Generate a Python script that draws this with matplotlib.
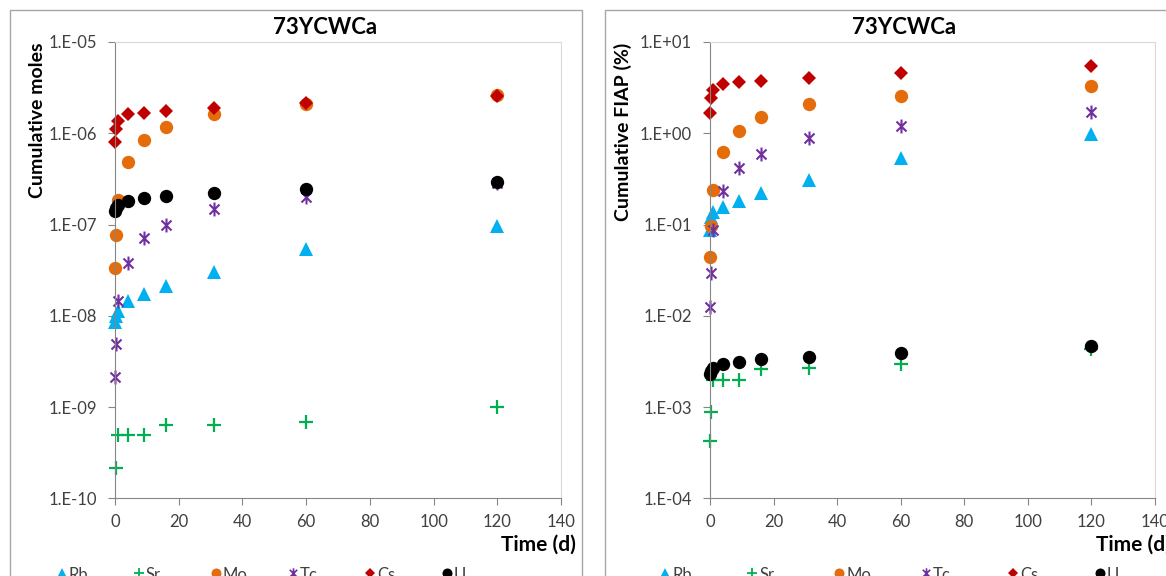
import numpy as np
import matplotlib
matplotlib.use('Agg')
import matplotlib.pyplot as plt
from matplotlib.path import Path
from matplotlib.lines import Line2D
from matplotlib.patches import Rectangle
from matplotlib.ticker import FixedLocator, FuncFormatter

plt.rcParams['font.family'] = ['Lato', 'DejaVu Sans']

# sampling times (d)
time_d = [0.08, 0.3, 1, 4, 9, 16, 31, 60, 120]
elements = ['Rb', 'Sr', 'Mo', 'Tc', 'Cs', 'U']

# cumulative moles
moles_rb = [8.6e-9, 1.0e-8, 1.13e-8, 1.46e-8, 1.73e-8, 2.12e-8, 3.0e-8, 5.4e-8, 9.6e-8]
moles_sr = [np.nan, 2.13e-10, 4.9e-10, 4.9e-10, 4.9e-10, 6.3e-10, 6.3e-10, 6.9e-10, 1.0e-9]
moles_mo = [3.36e-8, 7.67e-8, 1.86e-7, 4.87e-7, 8.43e-7, 1.18e-6, 1.61e-6, 2.09e-6, 2.62e-6]
moles_tc = [2.15e-9, 4.9e-9, 1.46e-8, 3.82e-8, 7.2e-8, 9.9e-8, 1.48e-7, 2.0e-7, 2.85e-7]
moles_cs = [8.08e-7, 1.105e-6, 1.373e-6, 1.626e-6, 1.68e-6, 1.767e-6, 1.905e-6, 2.15e-6, 2.56e-6]
moles_u = [1.42e-7, 1.52e-7, 1.64e-7, 1.81e-7, 1.94e-7, 2.05e-7, 2.2e-7, 2.45e-7, 2.95e-7]

# cumulative FIAP (%)
fiap_rb = [0.087, 0.12, 0.138, 0.157, 0.181, 0.220, 0.308, 0.537, 0.977]
fiap_sr = [4.28e-4, 8.9e-4, 2.0e-3, 2.0e-3, 2.0e-3, 2.6e-3, 2.65e-3, 2.97e-3, 4.3e-3]
fiap_mo = [0.0438, 0.097, 0.239, 0.628, 1.07, 1.52, 2.07, 2.59, 3.32]
fiap_tc = [0.0126, 0.0292, 0.087, 0.235, 0.42, 0.593, 0.88, 1.20, 1.71]
fiap_cs = [1.68, 2.42, 2.98, 3.47, 3.67, 3.77, 4.06, 4.57, 5.4]
fiap_u = [2.3e-3, 2.5e-3, 2.7e-3, 2.96e-3, 3.09e-3, 3.33e-3, 3.51e-3, 3.92e-3, 4.63e-3]

moles = [moles_rb, moles_sr, moles_mo, moles_tc, moles_cs, moles_u]
fiap = [fiap_rb, fiap_sr, fiap_mo, fiap_tc, fiap_cs, fiap_u]

# excel style "star" marker: X plus a vertical bar
star = Path([(0, -1), (0, 1), (-0.72, -0.72), (0.72, 0.72), (-0.72, 0.72), (0.72, -0.72)],
            [Path.MOVETO, Path.LINETO] * 3)

styles = [
    dict(marker='^', color='#00B0F0', ms=10.5, mew=0),
    dict(marker='+', color='#00B050', ms=9.6, mew=1.6),
    dict(marker='o', color='#E46C0A', ms=9.6, mew=0),
    dict(marker=star, color='#7030A0', ms=10, mew=1.5),
    dict(marker='D', color='#C00000', ms=6.8, mew=0),
    dict(marker='o', color='black', ms=9.6, mew=0),
]

W, H = 1166, 576
fig = plt.figure(figsize=(W / 100, H / 100), dpi=100)


def fx(px):
    return px / W


def fy(py):
    return 1 - py / H


def sci_label(v, pos):
    e = int(round(np.log10(v)))
    return '1.E{:+03d}'.format(e)


def make_chart(x0, x1, data, ylo, yhi, ylabel, ylab_xy, title_x, time_right, chart_x0, chart_x1, leg_x0, leg_pitch):
    # chart area border
    fig.add_artist(Rectangle((fx(chart_x0), fy(600)), fx(chart_x1 - chart_x0), fy(10) - fy(600),
                             transform=fig.transFigure, fill=False, ec='#a6a6a6', lw=1))
    ax = fig.add_axes([fx(x0), fy(498.3), fx(x1 - x0), fy(42) - fy(498.3)])
    for vals, st in zip(data, styles):
        ax.plot(time_d, vals, ls='none', marker=st['marker'], ms=st['ms'], mew=st['mew'],
                color=st['color'], mec=st['color'], mfc=st['color'], clip_on=False)
    ax.set_yscale('log')
    ax.set_ylim(ylo, yhi)
    ax.set_xlim(0, 140)
    ax.xaxis.set_major_locator(FixedLocator(range(0, 141, 20)))
    ax.yaxis.set_major_locator(FixedLocator([10.0 ** e for e in range(int(np.log10(ylo)), int(np.log10(yhi)) + 1)]))
    ax.yaxis.set_minor_locator(FixedLocator([]))
    ax.yaxis.set_major_formatter(FuncFormatter(sci_label))
    ax.tick_params(axis='both', direction='out', length=5, color='#868686', labelsize=12, labelcolor='#404040')
    ax.tick_params(axis='y', pad=8)
    ax.tick_params(axis='x', pad=6)
    ax.spines['left'].set_color('#868686')
    ax.spines['bottom'].set_color('#868686')
    ax.spines['top'].set_color('#d9d9d9')
    ax.spines['right'].set_color('#d9d9d9')

    fig.text(fx(title_x), fy(28), '73YCWCa', ha='center', va='center', fontsize=16, fontweight='bold')
    fig.text(fx(ylab_xy[0]), fy(ylab_xy[1]), ylabel, rotation=90, ha='center', va='center',
             fontsize=14, fontweight='bold')
    fig.text(fx(time_right), fy(545), 'Time (d)', ha='right', va='center', fontsize=15, fontweight='bold')

    # legend row, evenly spaced like excel
    for i, (name, st) in enumerate(zip(elements, styles)):
        mx = leg_x0 + i * leg_pitch
        fig.add_artist(Line2D([fx(mx)], [fy(573)], transform=fig.transFigure, ls='none',
                              marker=st['marker'], ms=st['ms'] * 0.75, mew=st['mew'] * 0.8,
                              color=st['color'], mec=st['color'], mfc=st['color']))
        fig.text(fx(mx + 7), fy(575), name, ha='left', va='center', fontsize=12, color='#404040')
    return ax


make_chart(115, 561, moles, 1e-10, 1e-5, 'Cumulative moles', (38, 120), 325, 576, 10, 582, 62, 77)
make_chart(710, 1155, fiap, 1e-4, 1e1, 'Cumulative FIAP (%)', (623, 132), 904, 1171, 605, 1200, 665, 87)

plt.savefig('out.png', dpi=100)
